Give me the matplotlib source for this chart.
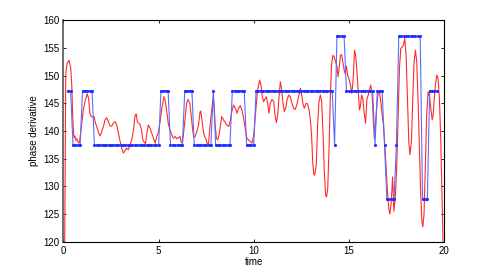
import numpy as np
import matplotlib
matplotlib.use('Agg')
import matplotlib.pyplot as plt

# red trace: phase derivative (time, value)
red_t = [0.0, 0.05, 0.12, 0.2, 0.29, 0.38, 0.44, 0.48, 0.52, 0.56, 0.6, 0.65, 0.7, 0.75, 0.82, 0.87, 0.92, 0.98,
         1.04, 1.15, 1.25, 1.32, 1.39, 1.46, 1.54, 1.61, 1.68, 1.75, 1.85, 1.92, 2.01, 2.1, 2.18, 2.27, 2.36,
         2.45, 2.54, 2.62, 2.71, 2.8, 2.89, 2.97, 3.06, 3.15, 3.24, 3.32, 3.41, 3.5, 3.59, 3.68, 3.76, 3.82,
         3.89, 3.95, 4.02, 4.1, 4.17, 4.24, 4.31, 4.38, 4.46, 4.55, 4.64, 4.73, 4.82, 4.9, 4.99, 5.08, 5.17,
         5.28, 5.34, 5.43, 5.52, 5.6, 5.69, 5.78, 5.87, 5.96, 6.04, 6.13, 6.18, 6.25, 6.36, 6.47, 6.55, 6.64,
         6.71, 6.78, 6.85, 6.92, 7.01, 7.1, 7.18, 7.22, 7.27, 7.34, 7.41, 7.48, 7.55, 7.62, 7.71, 7.8, 7.87,
         7.92, 7.97, 8.04, 8.11, 8.18, 8.25, 8.32, 8.41, 8.5, 8.58, 8.68, 8.76, 8.85, 8.94, 9.03, 9.12, 9.2,
         9.29, 9.38, 9.47, 9.55, 9.64, 9.73, 9.82, 9.91, 10.0, 10.08, 10.2, 10.31, 10.38, 10.45, 10.52, 10.61,
         10.66, 10.73, 10.8, 10.87, 10.96, 11.05, 11.12, 11.19, 11.26, 11.33, 11.4, 11.47, 11.54, 11.61, 11.68,
         11.75, 11.84, 11.92, 12.01, 12.1, 12.19, 12.28, 12.36, 12.45, 12.52, 12.59, 12.66, 12.75, 12.83, 12.92,
         12.98, 13.04, 13.1, 13.15, 13.2, 13.29, 13.36, 13.43, 13.5, 13.57, 13.64, 13.71, 13.78, 13.83, 13.89,
         13.96, 14.02, 14.09, 14.16, 14.23, 14.3, 14.38, 14.43, 14.48, 14.56, 14.62, 14.69, 14.76, 14.8, 14.87,
         14.94, 15.0, 15.08, 15.16, 15.23, 15.3, 15.36, 15.43, 15.5, 15.56, 15.61, 15.67, 15.73, 15.8, 15.88,
         15.95, 16.02, 16.08, 16.15, 16.22, 16.29, 16.34, 16.4, 16.47, 16.54, 16.61, 16.68, 16.75, 16.82, 16.89,
         16.96, 17.03, 17.1, 17.16, 17.23, 17.3, 17.37, 17.45, 17.52, 17.59, 17.66, 17.73, 17.8, 17.87, 17.94,
         18.01, 18.08, 18.15, 18.21, 18.29, 18.36, 18.43, 18.5, 18.57, 18.64, 18.71, 18.78, 18.84, 18.89, 18.95,
         19.02, 19.09, 19.17, 19.24, 19.31, 19.38, 19.43, 19.48, 19.55, 19.62, 19.69, 19.76, 19.83, 19.9, 19.95,
         20.0]
red_v = [105, 112, 150.5, 152.3, 152.8, 151.4, 148.0, 143.0, 140.0, 138.8, 139.1, 138.3, 138.6, 138.1, 137.8,
         138.7, 140.2, 142.0, 143.8, 145.6, 146.7, 145.9, 143.2, 142.6, 142.5, 142.6, 141.4, 140.8, 139.6, 139.1,
         139.9, 140.8, 142.0, 142.4, 141.7, 140.9, 140.9, 141.4, 141.7, 141.1, 139.6, 138.2, 136.9, 136.0, 136.5,
         136.9, 136.6, 137.5, 138.4, 140.2, 142.7, 143.1, 141.6, 141.4, 141.2, 140.2, 138.4, 138.0, 137.7, 139.5,
         141.1, 140.5, 139.6, 138.7, 137.8, 139.0, 139.8, 141.7, 144.1, 146.2, 145.6, 143.5, 141.1, 140.2, 139.3,
         138.7, 139.0, 138.6, 138.8, 139.0, 138.1, 137.8, 141.1, 145.0, 145.7, 145.0, 142.9, 140.5, 138.8, 139.0,
         139.9, 141.1, 143.5, 143.6, 142.3, 140.2, 139.0, 138.7, 137.8, 137.6, 141.1, 144.1, 146.2, 144.7, 141.1,
         138.7, 138.4, 139.3, 141.1, 142.6, 142.0, 141.6, 141.1, 140.8, 141.7, 143.5, 144.7, 144.1, 143.2, 144.1,
         144.6, 143.8, 142.3, 140.5, 138.7, 138.4, 138.1, 137.8, 139.3, 142.5, 147.4, 149.2, 148.3, 146.2, 145.3,
         145.9, 146.2, 145.0, 143.2, 145.0, 145.7, 145.3, 142.9, 141.5, 142.9, 146.2, 148.9, 147.4, 145.0, 143.5,
         144.1, 145.6, 146.5, 146.2, 145.0, 144.1, 143.9, 145.0, 146.2, 147.7, 146.5, 144.8, 144.1, 145.0, 144.9,
         143.6, 142.0, 139.3, 134.5, 132.3, 132.0, 133.9, 141.1, 145.3, 146.5, 145.3, 139.9, 132.7, 128.4, 128.1,
         129.6, 136.9, 145.3, 151.9, 153.7, 153.4, 152.6, 151.6, 149.8, 151.0, 153.7, 153.8, 152.3, 150.9, 150.4,
         151.7, 150.1, 149.5, 148.4, 146.8, 149.5, 154.6, 153.6, 150.5, 146.8, 143.8, 144.5, 146.5, 146.0, 143.5,
         141.4, 145.8, 146.5, 147.3, 148.3, 146.8, 141.7, 138.7, 141.1, 144.7, 146.8, 147.1, 145.3, 142.9, 141.1,
         137.5, 133.3, 129.0, 126.0, 125.0, 127.2, 131.7, 125.5, 128.4, 133.9, 142.9, 151.3, 154.9, 155.2, 155.5,
         156.7, 153.7, 145.9, 138.1, 135.7, 138.1, 145.9, 152.5, 154.6, 152.5, 145.3, 136.9, 128.4, 123.6, 122.7,
         124.8, 133.3, 142.9, 147.1, 146.2, 144.1, 142.0, 142.9, 145.3, 148.3, 150.1, 149.5, 145.9, 138.7, 128.0,
         120.0, 114.0]

# blue trace: quantised levels, one sample every 0.125 s from 0.25 s
levels = [127.65, 137.47, 147.3, 157.1]
blue_start = 0.25
blue_step = 0.125
run_level = [2, 1, 2, 1, 2, 1, 2, 1, 2, 1, 2, 1, 2, 1, 3, 2, 1, 2, 1, 0, 1, 3, 0, 2]
run_count = [2, 4, 5, 28, 4, 6, 4, 8, 1, 7, 6, 4, 33, 1, 4, 12, 1, 3, 1, 4, 1, 10, 3, 4]

blue_v = np.repeat([levels[i] for i in run_level], run_count)
blue_t = blue_start + blue_step * np.arange(len(blue_v))

plt.rcParams['font.family'] = ['Liberation Sans', 'DejaVu Sans']

fig = plt.figure(figsize=(4.91, 2.73), dpi=100)
ax = fig.add_axes([0.1293, 0.1147, 0.7749, 0.8109])

ax.plot(red_t, red_v, color='#ff2a2a', linewidth=0.8)
ax.plot(blue_t, blue_v, color='#5a6cff', linewidth=0.8,
        marker='.', markersize=2.5, markerfacecolor='#1f2fff', markeredgecolor='#1f2fff')

ax.set_xlim(0, 20)
ax.set_ylim(120, 160)
ax.set_xticks([0, 5, 10, 15, 20])
ax.set_yticks([120, 125, 130, 135, 140, 145, 150, 155, 160])
ax.tick_params(direction='in', length=2.5, width=0.6, labelsize=7,
               top=True, right=True, pad=3)
for s in ax.spines.values():
    s.set_linewidth(0.8)
ax.spines['left'].set_linewidth(1.2)
ax.spines['left'].set_color('#555555')

ax.set_xlabel('time', fontsize=7, labelpad=1)
ax.set_ylabel('phase derivative', fontsize=7, labelpad=3)

fig.savefig('out.png', dpi=100)
